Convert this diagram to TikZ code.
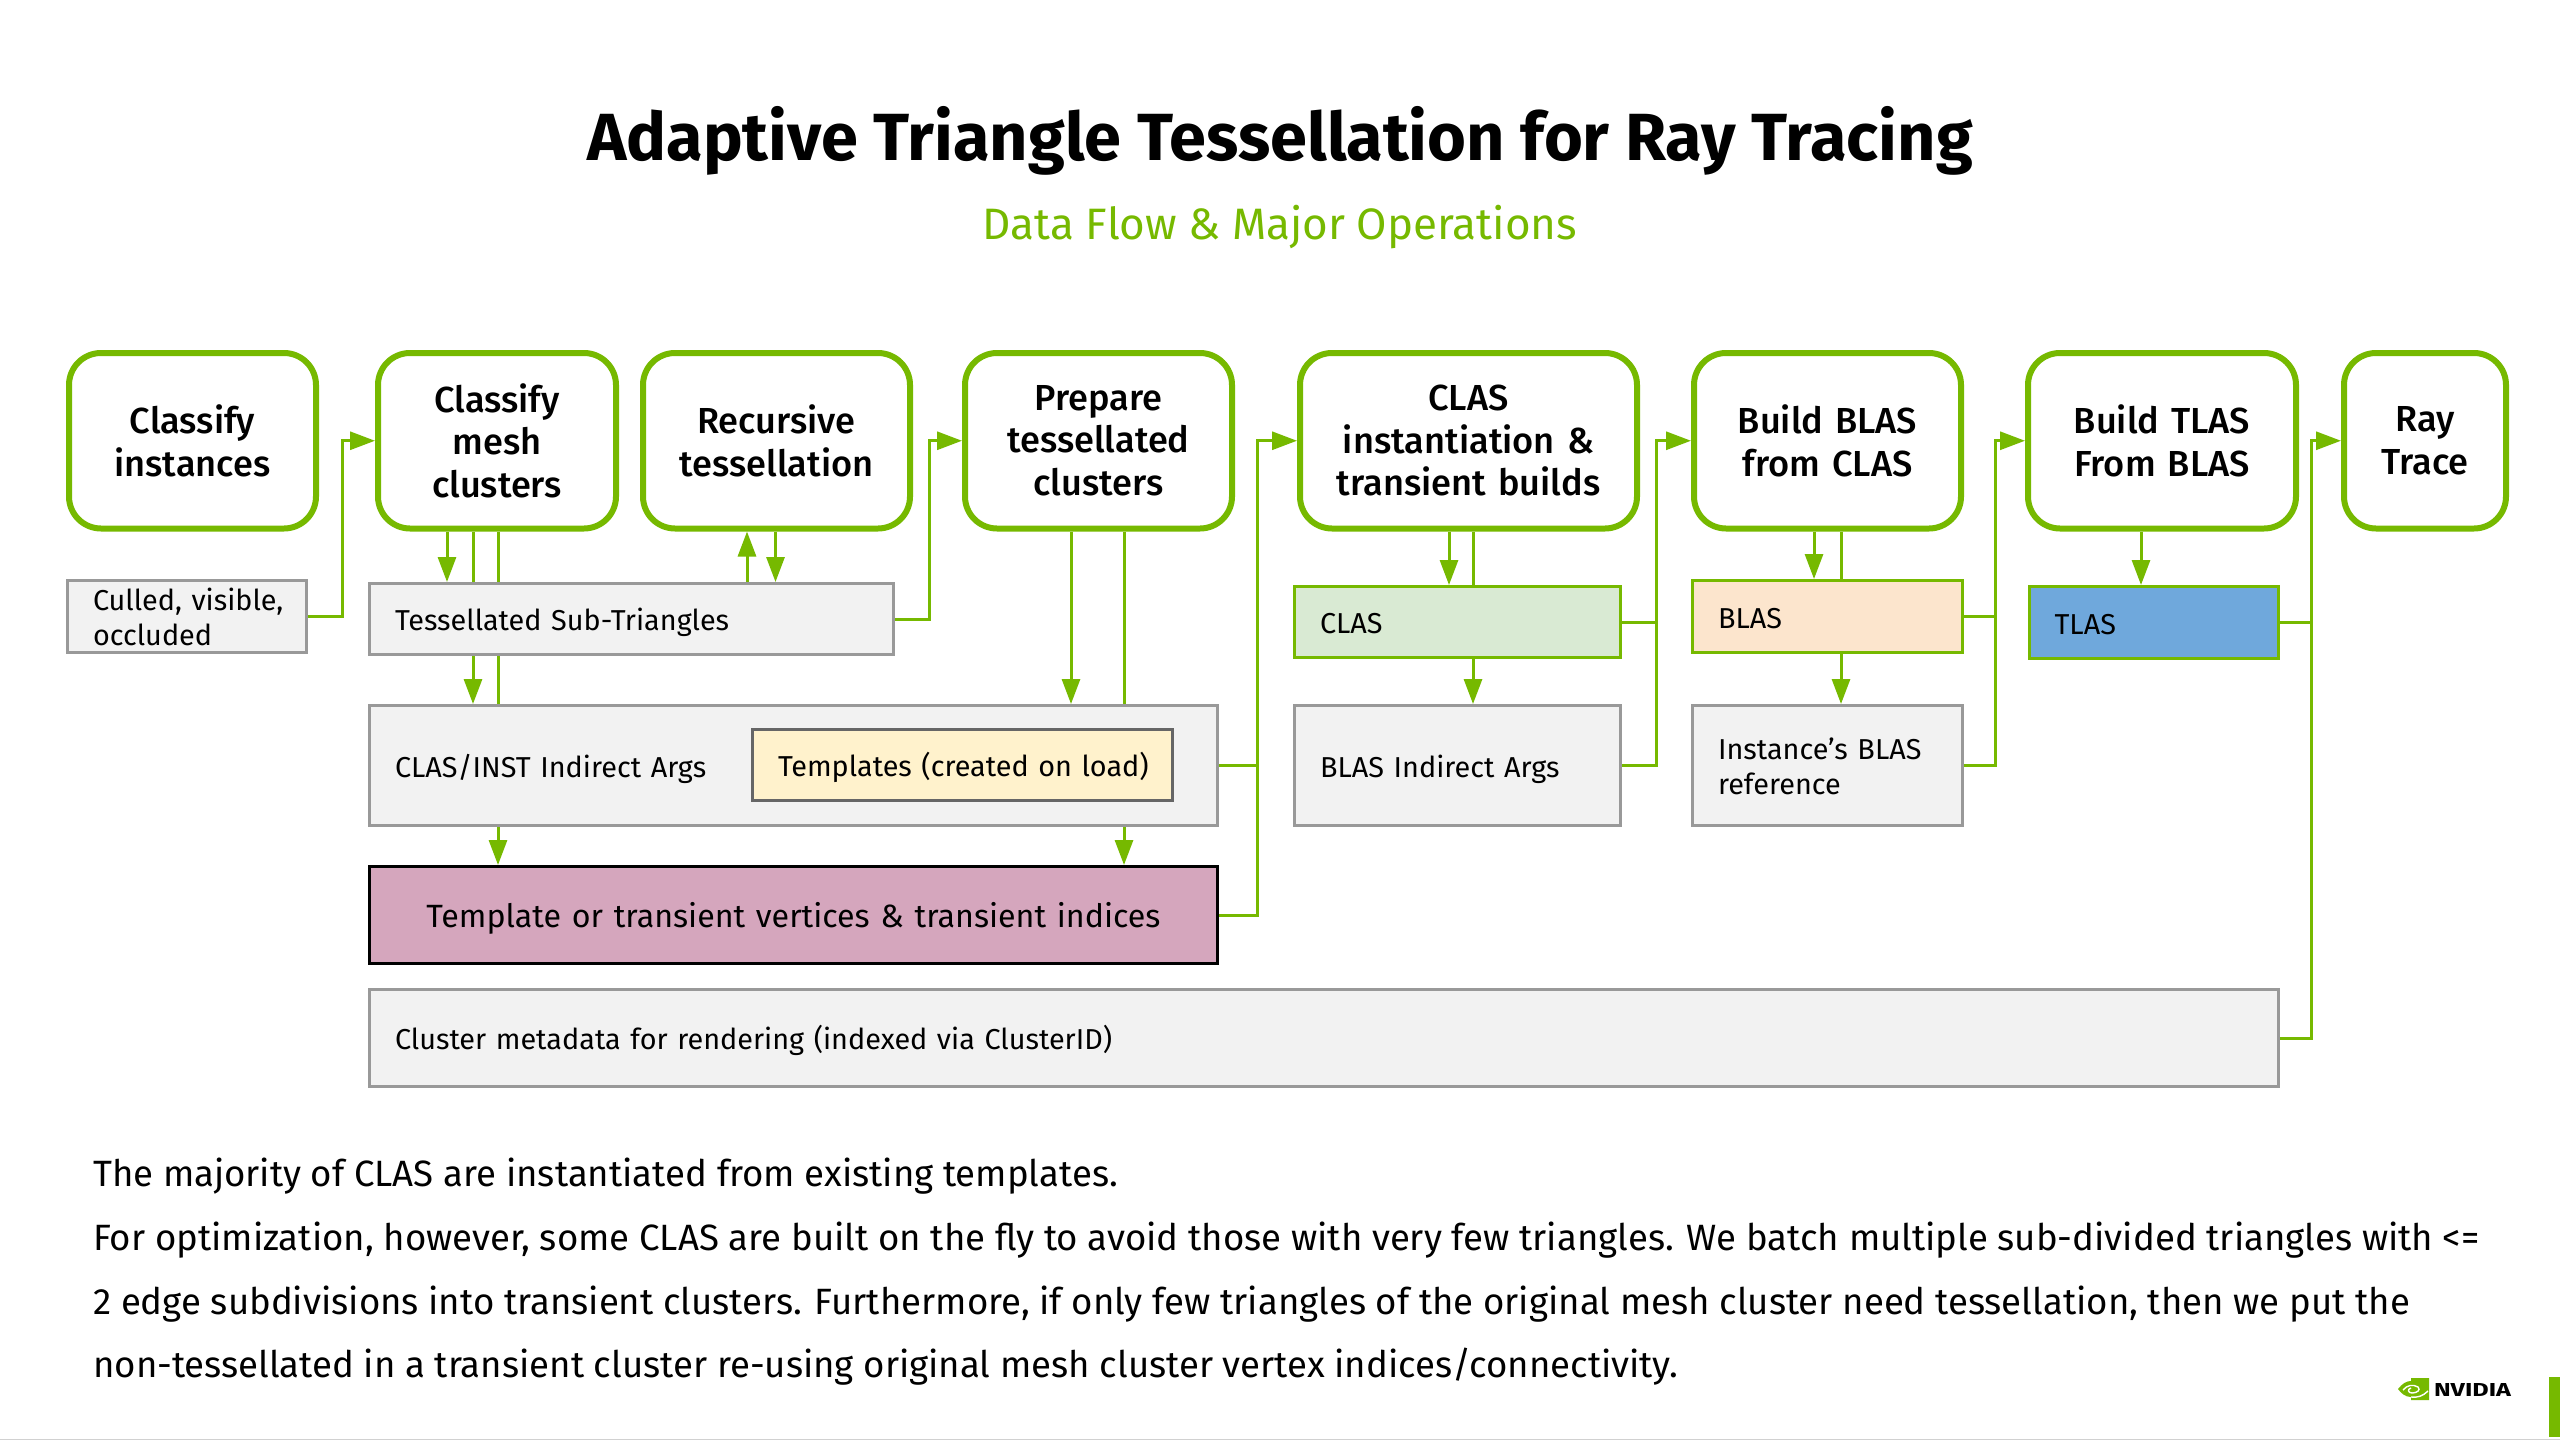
\documentclass[tikz,border=0pt]{standalone}
\usepackage{fontspec}
\usepackage{graphicx}
\setmainfont{Fira Sans}
\newfontfamily\medfont{Fira Sans Medium}
\usetikzlibrary{arrows.meta,calc}
\definecolor{nvgreen}{HTML}{76B900}
\definecolor{boxgray}{HTML}{F2F2F2}
\definecolor{edgegray}{HTML}{999999}
\definecolor{tmplfill}{HTML}{FFF2CC}
\definecolor{pinkfill}{HTML}{D5A6BD}
\definecolor{clasfill}{HTML}{D9EAD3}
\definecolor{blasfill}{HTML}{FCE5CD}
\definecolor{tlasfill}{HTML}{6FA8DC}
\newcommand\bx[7]{%
\pgfmathsetmacro\mybw{#5-#3}\pgfmathsetmacro\mybh{#6-#4}%
\pgfmathsetmacro\mycx{(#3+#5)/2}\pgfmathsetmacro\mycy{(#4+#6)/2}%
\pgfmathsetmacro\mytw{#5-#3-4}%
\node[#1,minimum width=\mybw pt,minimum height=\mybh pt,text width=\mytw pt,inner xsep=2pt,inner ysep=0pt] (#2) at (\mycx,\mycy) {#7};}
\newcommand\dl[1]{\hspace*{23.5pt}\raisebox{-10.7pt}[0pt][0pt]{\begin{tabular}[c]{@{}l@{}}#1\end{tabular}}}
\tikzset{
  stage/.style={draw=nvgreen,line width=6pt,rounded corners=32pt,fill=white,align=center,font=\fontsize{36.2}{42.5}\selectfont\medfont},
  databox/.style={draw=edgegray,line width=3pt,fill=boxgray,align=left,font=\fontsize{28.8}{35.5}\selectfont},
  tmpl/.style={databox,draw=black!60,fill=tmplfill},
  pinkbox/.style={databox,draw=black,fill=pinkfill,font=\fontsize{32.2}{40}\selectfont,align=center},
  clasbox/.style={databox,draw=nvgreen,fill=clasfill},
  blasbox/.style={databox,draw=nvgreen,fill=blasfill},
  tlasbox/.style={databox,draw=nvgreen,fill=tlasfill},
  link/.style={draw=nvgreen,line width=3pt},
  arr/.style={link,-{Triangle[length=25pt,width=18pt]}},
}
\begin{document}
\begin{tikzpicture}[x=1pt,y=-1pt]
\useasboundingbox (0,0) rectangle (2560,1440);
\fill[white] (0,0) rectangle (2560,1440);
\node[font=\fontsize{66.7}{72}\selectfont\bfseries] (title) at (1280,141) {Adaptive Triangle Tessellation for Ray Tracing};
\node[font=\fontsize{44}{48}\selectfont,text=nvgreen] (subtitle) at (1280,227) {Data Flow \& Major Operations};
% stages
\bx{stage}{inst}{69}{353}{316}{528.5}{Classify\\instances}
\bx{stage}{mesh}{378}{353}{616}{528.5}{Classify\\mesh\\clusters}
\bx{stage}{recur}{643}{353}{910}{528.5}{Recursive\\tessellation}
\bx{stage}{prep}{965}{353}{1232}{528.5}{Prepare\\tessellated\\clusters}
\bx{stage}{clasb}{1300}{353}{1637}{528.5}{CLAS\\instantiation \&\\transient builds}
\bx{stage}{buildb}{1694}{353}{1961}{528.5}{Build BLAS\\from CLAS}
\bx{stage}{buildt}{2028}{353}{2296}{528.5}{Build TLAS\\From BLAS}
\bx{stage}{ray}{2344}{353}{2506}{528.5}{Ray\\Trace}
% data
\bx{databox}{cull}{67.5}{580.5}{306.5}{652.5}{\dl{Culled, visible,\\occluded}}
\bx{databox}{tess}{369.5}{583.5}{893.5}{654.5}{\dl{Tessellated Sub-Triangles}}
\bx{databox}{args}{369.5}{705.5}{1217.5}{825.5}{\dl{CLAS/INST Indirect Args}}
\bx{tmpl}{tmpls}{752.5}{729}{1172.5}{800}{\dl{Templates (created on load)}}
\bx{pinkbox}{verts}{369.5}{866.5}{1217.5}{963.5}{\raisebox{-12pt}[0pt][0pt]{Template or transient vertices \& transient indices}}
\bx{databox}{meta}{369.5}{989.5}{2278.5}{1086.5}{\dl{Cluster metadata for rendering (indexed via ClusterID)}}
\bx{clasbox}{clas}{1294.5}{586.5}{1620.5}{657.5}{\dl{CLAS}}
\bx{databox}{bargs}{1294.5}{705.5}{1620.5}{825.5}{\dl{BLAS Indirect Args}}
\bx{blasbox}{blas}{1692.5}{580.5}{1962.5}{652.5}{\dl{BLAS}}
\bx{databox}{iref}{1692.5}{705.5}{1962.5}{825.5}{\dl{Instance’s BLAS\\reference}}
\bx{tlasbox}{tlas}{2029}{586.5}{2278.5}{658.5}{\dl{TLAS}}
% connectors
\draw[arr] (cull.east) -- ++(34,0) |- (mesh.west);
\draw[arr] (447,0 |- mesh.south) -- (447,0 |- tess.north);
\draw[link] (473,0 |- mesh.south) -- (473,0 |- tess.north);
\draw[link] (498,0 |- mesh.south) -- (498,0 |- tess.north);
\draw[arr] (747,0 |- tess.north) -- (747,0 |- recur.south);
\draw[arr] (775.5,0 |- recur.south) -- (775.5,0 |- tess.north);
\draw[arr] (473,0 |- tess.south) -- (473,0 |- args.north);
\draw[link] (498,0 |- tess.south) -- (498,0 |- args.north);
\draw[arr] (498,0 |- args.south) -- (498,0 |- verts.north);
\draw[arr] (tess.east) -- ++(34,0) |- (prep.west);
\draw[arr] (1071,0 |- prep.south) -- (1071,0 |- args.north);
\draw[link] (1124,0 |- prep.south) -- (1124,0 |- args.north);
\draw[arr] (1124,0 |- args.south) -- (1124,0 |- verts.north);
\draw[arr] (verts.east) -- ++(38.5,0) |- (clasb.west);
\draw[link] (args.east) -- ++(38.5,0);
\draw[arr] (1449,0 |- clasb.south) -- (1449,0 |- clas.north);
\draw[link] (1473,0 |- clasb.south) -- (1473,0 |- clas.north);
\draw[arr] (1473,0 |- clas.south) -- (1473,0 |- bargs.north);
\draw[arr] (bargs.east) -- ++(34,0) |- (buildb.west);
\draw[link] (clas.east) -- ++(34,0);
\draw[arr] (1814,0 |- buildb.south) -- (1814,0 |- blas.north);
\draw[link] (1841,0 |- buildb.south) -- (1841,0 |- blas.north);
\draw[arr] (1841,0 |- blas.south) -- (1841,0 |- iref.north);
\draw[arr] (iref.east) -- ++(31,0) |- (buildt.west);
\draw[link] (blas.east) -- ++(31,0);
\draw[arr] (2141,0 |- buildt.south) -- (2141,0 |- tlas.north);
\draw[arr] (meta.east) -- ++(31,0) |- (ray.west);
\draw[link] (tlas.east) -- ++(31,0);
% paragraph
\node[anchor=north west,inner sep=0pt,align=left,font=\fontsize{36.6}{63.7}\selectfont] (para) at (93,1158) {The majority of CLAS are instantiated from existing templates.\\
For optimization, however, some CLAS are built on the fly to avoid those with very few triangles. We batch multiple sub-divided triangles with <=\\
2 edge subdivisions into transient clusters. Furthermore, if only few triangles of the original mesh cluster need tessellation, then we put the\\
non-tessellated in a transient cluster re-using original mesh cluster vertex indices/connectivity.};
% logo and footer
\fill[nvgreen] (2398,1389) .. controls (2402,1384) and (2406,1381) .. (2411,1381) -- (2411,1378) -- (2429,1378) -- (2429,1400) -- (2411,1400) -- (2411,1397) .. controls (2405,1397) and (2401,1393) .. (2398,1389) -- cycle;
\draw[white,line width=1.4pt] (2403,1390) .. controls (2407,1385) and (2413,1384) .. (2418,1387) .. controls (2421,1390) and (2417,1393) .. (2412,1393) .. controls (2408,1393) and (2407,1389) .. (2411,1388);
\draw[white,line width=1.4pt] (2411,1397) .. controls (2417,1398) and (2423,1396) .. (2428,1391);
\node[inner sep=0pt] (logo) at (2472.5,1389.5) {\resizebox{77pt}{13pt}{\bfseries NVIDIA}};
\fill[nvgreen] (2549,1377) rectangle (2560,1437);
\fill[black!18] (0,1438.5) rectangle (2560,1440);
\end{tikzpicture}
\end{document}
